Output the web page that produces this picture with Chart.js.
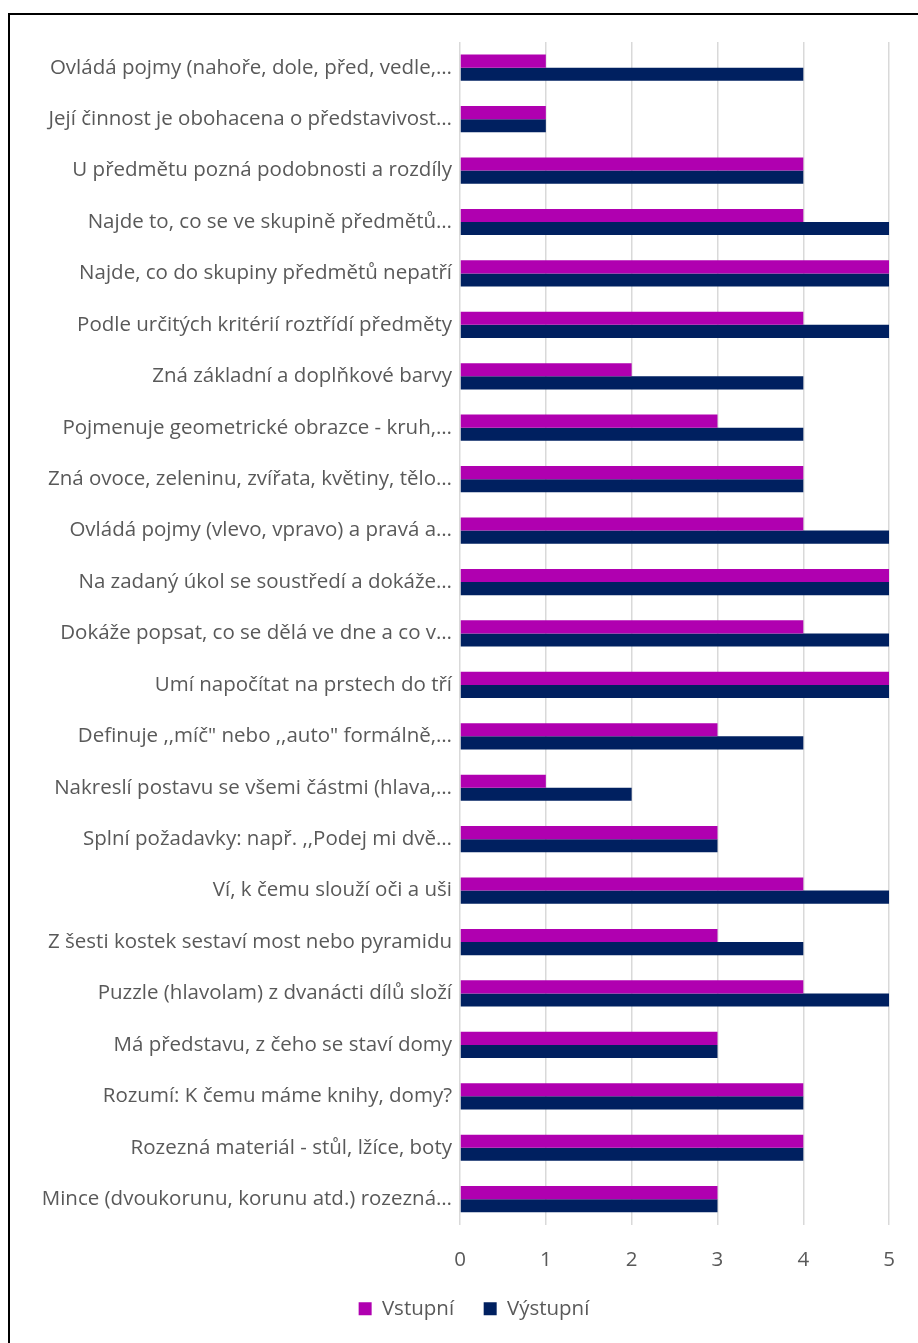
<!DOCTYPE html>
<html>
<head>
<meta charset="utf-8">
<script src="https://cdn.jsdelivr.net/npm/chart.js@4"></script>
<style>
  html, body { margin: 0; padding: 0; background: #fff; overflow: hidden; }
  #frame { position: absolute; left: 8px; top: 13px; width: 1000px; height: 1400px; border: 2px solid #000; box-sizing: border-box; }
  #wrap { position: absolute; left: 0; top: 0; width: 918px; height: 1343px; }
</style>
</head>
<body>
<div id="frame"></div>
<div id="wrap"><canvas id="skills"></canvas></div>
<script>
const categories = [
    'Ovládá pojmy (nahoře, dole, před, vedle,…',
    'Její činnost je obohacena o představivost…',
    'U předmětu pozná podobnosti a rozdíly',
    'Najde to, co se ve skupině předmětů…',
    'Najde, co do skupiny předmětů nepatří',
    'Podle určitých kritérií roztřídí předměty',
    'Zná základní a doplňkové barvy',
    'Pojmenuje geometrické obrazce - kruh,…',
    'Zná ovoce, zeleninu, zvířata, květiny, tělo…',
    'Ovládá pojmy (vlevo, vpravo) a pravá a…',
    'Na zadaný úkol se soustředí a dokáže…',
    'Dokáže popsat, co se dělá ve dne a co v…',
    'Umí napočítat na prstech do tří',
    'Definuje ,,míč" nebo ,,auto" formálně,…',
    'Nakreslí postavu se všemi částmi (hlava,…',
    'Splní požadavky: např. ,,Podej mi dvě…',
    'Ví, k čemu slouží oči a uši',
    'Z šesti kostek sestaví most nebo pyramidu',
    'Puzzle (hlavolam) z dvanácti dílů složí',
    'Má představu, z čeho se staví domy',
    'Rozumí: K čemu máme knihy, domy?',
    'Rozezná materiál - stůl, lžíce, boty',
    'Mince (dvoukorunu, korunu atd.) rozezná…'
];

const vstupni =  [1, 1, 4, 4, 5, 4, 2, 3, 4, 4, 5, 4, 5, 3, 1, 3, 4, 3, 4, 3, 4, 4, 3];
const vystupni = [4, 1, 4, 5, 5, 5, 4, 4, 4, 5, 5, 5, 5, 4, 2, 3, 5, 4, 5, 3, 4, 4, 3];

const xTicks = [0, 1, 2, 3, 4, 5];

const fontFamily = '"Open Sans", sans-serif';
const textColor = '#595959';
const fontSize = 20.5;

const data = {
    labels: categories,
    datasets: [{
        label: 'Vstupní',
        data: vstupni,
        backgroundColor: '#b000b0',
        categoryPercentage: 0.51,
        barPercentage: 1.0
    }, {
        label: 'Výstupní',
        data: vystupni,
        backgroundColor: '#002060',
        categoryPercentage: 0.51,
        barPercentage: 1.0
    }]
};

// legend in the original sits a bit right of centre
const legendShift = {
    id: 'legendShift',
    afterLayout(chart) {
        chart.legend.left += 24;
        chart.legend.right += 24;
    }
};

const options = {
    indexAxis: 'y',
    responsive: true,
    maintainAspectRatio: false,
    animation: false,
    layout: {
        padding: {top: 42, right: 18, bottom: 14, left: 0}
    },
    scales: {
        x: {
            min: 0,
            max: 5,
            afterBuildTicks: (axis) => { axis.ticks = xTicks.map(v => ({value: v})); },
            grid: {color: '#d9d9d9', lineWidth: 1.5, drawTicks: false},
            border: {display: false},
            ticks: {color: textColor, font: {family: fontFamily, size: fontSize}, padding: 23}
        },
        y: {
            grid: {display: false, drawTicks: false},
            border: {display: false},
            afterFit: (axis) => { axis.width = 460; },
            ticks: {color: textColor, font: {family: fontFamily, size: fontSize}, padding: 8, autoSkip: false}
        }
    },
    plugins: {
        legend: {
            position: 'bottom',
            labels: {
                color: textColor,
                font: {family: fontFamily, size: fontSize},
                boxWidth: 13,
                boxHeight: 13,
                padding: 3,
                // wider gap between the two entries without growing the legend's height
                generateLabels: (chart) => Chart.defaults.plugins.legend.labels.generateLabels(chart)
                    .map((item, i) => { if (i === 0) item.text += '     '; return item; })
            }
        },
        tooltip: {enabled: false}
    }
};

const ctx = document.getElementById('skills');
const chart = new Chart(ctx, {
    type: 'bar',
    data: data,
    options: options,
    plugins: [legendShift]
});
</script>
</body>
</html>
